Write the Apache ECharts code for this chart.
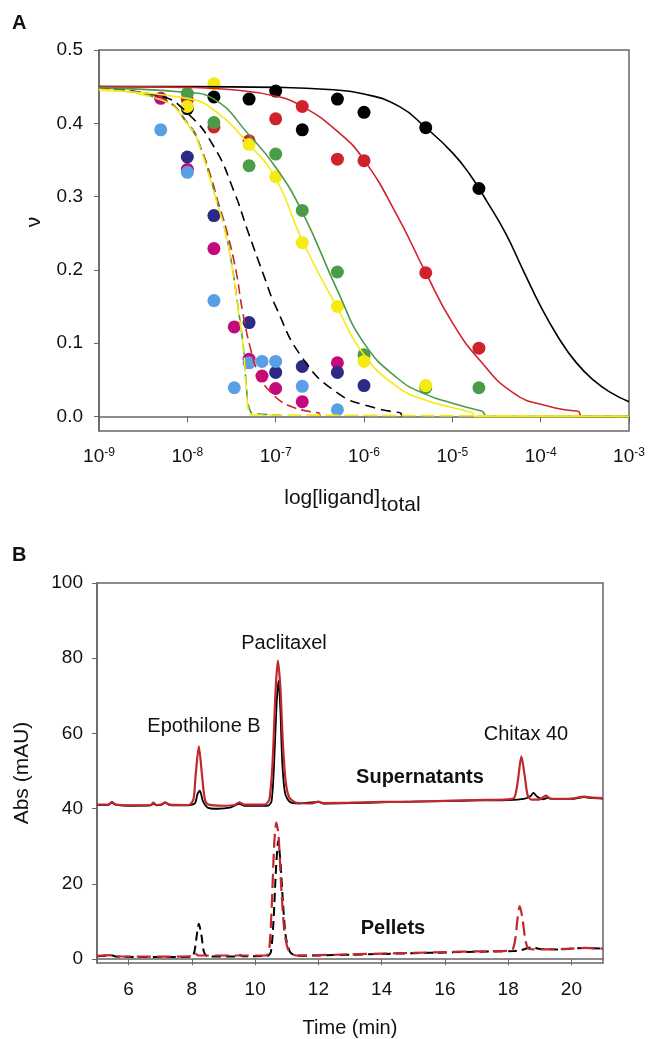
<html>
<head>
<meta charset="utf-8">
<title>binding + hplc</title>
<script src="https://cdn.jsdelivr.net/npm/echarts@6.0.0/dist/echarts.min.js"></script>
<style>
  body { margin: 0; background: #fff; }
  #chart { width: 648px; height: 1039px; }
</style>
</head>
<body>
<div id="chart"></div>
<script>
// ---- panel A : binding points, [conc (M), nu] ----
var ptsBlack   = [[1e-8,0.420],[2e-8,0.436],[5e-8,0.433],[1e-7,0.444],[2e-7,0.391],[5e-7,0.433],[1e-6,0.415],[5e-6,0.394],[2e-5,0.311]];
var ptsRed     = [[1e-8,0.432],[2e-8,0.395],[5e-8,0.376],[1e-7,0.406],[2e-7,0.423],[5e-7,0.351],[1e-6,0.349],[5e-6,0.196],[2e-5,0.093]];
var ptsGreen   = [[1e-8,0.441],[2e-8,0.401],[5e-8,0.342],[1e-7,0.358],[2e-7,0.281],[5e-7,0.197],[1e-6,0.084],[5e-6,0.039],[2e-5,0.039]];
var ptsYellow  = [[1e-8,0.423],[2e-8,0.454],[5e-8,0.371],[1e-7,0.327],[2e-7,0.237],[5e-7,0.150],[1e-6,0.075],[5e-6,0.042]];
var ptsMagenta = [[5e-9,0.434],[1e-8,0.337],[2e-8,0.229],[3.4e-8,0.122],[5e-8,0.078],[7e-8,0.055],[1e-7,0.038],[2e-7,0.020],[5e-7,0.073]];
var ptsNavy    = [[1e-8,0.354],[2e-8,0.274],[5e-8,0.128],[1e-7,0.060],[2e-7,0.068],[5e-7,0.060],[1e-6,0.042]];
var ptsBlue    = [[5e-9,0.391],[1e-8,0.333],[2e-8,0.158],[3.4e-8,0.039],[5e-8,0.073],[7e-8,0.075],[1e-7,0.075],[2e-7,0.041],[5e-7,0.009]];

// fitted curves (they drop to 0 where Excel cut them)
var fitBlack  = [[1e-9,0.450],[1e-8,0.450],[1e-7,0.449],[4e-7,0.446],[1e-6,0.440],[2.5e-6,0.423],[5e-6,0.394],[1e-5,0.360],[1.58e-5,0.330],[2.5e-5,0.292],[4e-5,0.250],[6.3e-5,0.200],[1e-4,0.150],[1.58e-4,0.108],[2.5e-4,0.074],[4e-4,0.049],[6.3e-4,0.032],[1e-3,0.020]];
var fitRed    = [[1e-9,0.450],[1e-8,0.449],[3e-8,0.446],[1e-7,0.437],[2e-7,0.423],[5e-7,0.389],[1e-6,0.350],[2.4e-6,0.273],[5e-6,0.196],[1e-5,0.128],[2e-5,0.078],[4.9e-5,0.032],[1.2e-4,0.014],[2.7e-4,0.007],[2.85e-4,0],[1e-3,0]];
var fitGreen  = [[1e-9,0.448],[1e-8,0.442],[2e-8,0.433],[5e-8,0.384],[1e-7,0.340],[2e-7,0.279],[5e-7,0.172],[1e-6,0.100],[2.4e-6,0.052],[5e-6,0.030],[1e-5,0.018],[2.2e-5,0.007],[2.4e-5,0],[1e-3,0]];
var fitYellow = [[1e-9,0.445],[1e-8,0.434],[2e-8,0.418],[5e-8,0.371],[1e-7,0.325],[2e-7,0.240],[5e-7,0.148],[1e-6,0.084],[2.4e-6,0.040],[5e-6,0.022],[1e-5,0.012],[1.7e-5,0.005],[1.75e-5,0],[1e-3,0]];
var fitBlackDash  = [[1e-9,0.447],[5e-9,0.437],[1e-8,0.414],[2e-8,0.368],[3.4e-8,0.306],[4.8e-8,0.254],[7.2e-8,0.195],[1e-7,0.150],[2e-7,0.080],[5e-7,0.032],[1.2e-6,0.013],[2.6e-6,0.005],[2.7e-6,0]];
var fitRedDash    = [[1e-9,0.447],[5e-9,0.434],[1.1e-8,0.393],[1.4e-8,0.368],[1.85e-8,0.327],[2.2e-8,0.295],[2.75e-8,0.256],[3.55e-8,0.199],[4.2e-8,0.145],[5.25e-8,0.090],[6.5e-8,0.057],[8.5e-8,0.035],[1.45e-7,0.014],[3.1e-7,0.005],[3.2e-7,0]];
var fitGreenDash  = [[1e-9,0.447],[5e-9,0.433],[1.1e-8,0.395],[1.4e-8,0.368],[1.8e-8,0.327],[2.15e-8,0.295],[2.66e-8,0.256],[3.25e-8,0.201],[3.77e-8,0.147],[4.33e-8,0.092],[4.7e-8,0.035],[5e-8,0.012],[5.6e-8,0.004],[1.1e-7,0.002],[1.15e-7,0]];
var fitYellowDash = [[1e-9,0.446],[5e-9,0.432],[1.1e-8,0.393],[1.4e-8,0.366],[1.8e-8,0.325],[2.15e-8,0.293],[2.66e-8,0.254],[3.25e-8,0.199],[3.77e-8,0.145],[4.33e-8,0.090],[4.65e-8,0.035],[4.85e-8,0.012],[5.05e-8,0.002],[5.2e-8,0],[1e-3,0]];

var yTicksA = [0, 0.1, 0.2, 0.3, 0.4, 0.5];

// ---- panel B : chromatograms, [time (min), Abs (mAU)] ----
var supBlack = [[5,41.0],[5.35,41.0],[5.47,41.6],[5.6,41.0],[6.0,40.8],[6.7,40.9],[6.78,41.4],[6.88,40.9],[7.05,41.1],[7.15,41.6],[7.3,41.0],[7.9,40.9],[8.1,41.5],[8.18,44.0],[8.25,44.8],[8.35,42.0],[8.5,40.3],[8.8,40.0],[9.2,40.3],[9.5,41.3],[9.65,40.8],[10.4,40.8],[10.52,42],[10.6,52],[10.68,68],[10.74,74],[10.8,66],[10.86,52],[10.95,44],[11.1,41.8],[11.4,41.4],[12,41.8],[12.15,41.4],[13,41.5],[14,41.7],[15,41.9],[16,42.0],[17,42.2],[18,42.3],[18.5,42.6],[18.7,43.3],[18.8,44.2],[18.92,43.2],[19.1,42.5],[19.25,42.9],[19.4,42.6],[20,42.6],[20.4,43.1],[20.6,42.9],[21,42.7]];
var supRed = [[5,41.1],[5.35,41.1],[5.47,41.8],[5.6,41.1],[6.0,40.9],[6.7,41.0],[6.78,41.6],[6.88,41.0],[7.05,41.2],[7.15,41.7],[7.3,41.1],[7.9,41.0],[8.05,42.5],[8.12,49],[8.22,56.6],[8.32,49],[8.4,43],[8.5,41.2],[9.0,40.8],[9.35,41.0],[9.5,41.7],[9.65,41.1],[10.3,41.1],[10.45,42.5],[10.55,52],[10.65,72],[10.72,79.4],[10.8,72],[10.88,57],[10.97,47],[11.08,43],[11.3,41.6],[11.8,41.4],[12.0,41.9],[12.15,41.5],[13,41.6],[14,41.8],[15,41.9],[16,42.1],[17,42.3],[18.0,42.5],[18.2,43],[18.3,47],[18.42,53.9],[18.52,49],[18.62,43.5],[18.75,42.4],[19.0,42.5],[19.2,43.5],[19.35,42.6],[20,42.7],[20.4,43.2],[20.6,43.0],[21,42.8]];
var pelBlack = [[5,0.8],[5.5,1.0],[5.6,0.7],[7,0.6],[8.0,0.7],[8.08,2],[8.15,6],[8.22,9.4],[8.3,6.5],[8.38,2],[8.5,0.7],[9.4,0.7],[9.5,1.2],[9.6,0.8],[10.4,0.9],[10.5,2],[10.58,10],[10.66,24],[10.73,31.4],[10.8,26],[10.88,15],[10.97,6],[11.1,2],[11.3,0.9],[12,1.0],[13,1.2],[14,1.4],[15,1.6],[16,1.8],[17,2.0],[18.2,2.2],[18.4,2.4],[18.6,2.9],[18.8,3.2],[18.95,2.8],[19.5,2.6],[20.4,3.0],[21,2.8]];
var pelRed = [[5,0.9],[5.5,1.1],[5.6,0.8],[7,0.7],[8.0,0.8],[8.1,1.6],[8.2,1.0],[9.5,1.0],[10.35,1.0],[10.45,3],[10.53,15],[10.6,30],[10.67,36.3],[10.74,33],[10.82,20],[10.92,8],[11.05,2.5],[11.3,1.0],[12,1.1],[13,1.3],[14,1.5],[15,1.7],[16,1.9],[17,2.1],[18.1,2.3],[18.22,5],[18.3,11],[18.37,14.1],[18.45,11],[18.55,5],[18.65,2.8],[19,2.6],[20,2.8],[20.4,3.0],[21,2.8]];

var xTicksB = [6, 8, 10, 12, 14, 16, 18, 20];
var yTicksB = [0, 20, 40, 60, 80, 100];

var FONT = '"Liberation Sans", Arial, sans-serif';
var AXIS = '#666';

var chart = echarts.init(document.getElementById('chart'), null, { renderer: 'canvas' });

function dots(data, color) {
  return { type: 'scatter', xAxisIndex: 0, yAxisIndex: 0, data: data, symbol: 'circle', symbolSize: 13,
    itemStyle: { color: color, opacity: 1 }, z: 2, silent: true };
}
// smooth part up to the cut, then a straight drop and flat tail at 0
function fit(data, color, dash) {
  var k = -1;
  for (var i = 0; i < data.length; i++) { if (data[i][1] === 0) { k = i; break; } }
  var head = k < 0 ? data : data.slice(0, k);
  var tail = k < 0 ? [] : data.slice(k - 1);
  var ls = { color: color, width: 1.6, type: dash || 'solid' };
  var out = [{ type: 'line', xAxisIndex: 0, yAxisIndex: 0, data: head, showSymbol: false, smooth: 0.5,
    lineStyle: ls, z: 3, silent: true }];
  if (tail.length) out.push({ type: 'line', xAxisIndex: 0, yAxisIndex: 0, data: tail, showSymbol: false,
    smooth: false, lineStyle: ls, z: 3, silent: true });
  return out;
}
function trace(data, color, width, dash) {
  return { type: 'line', xAxisIndex: 1, yAxisIndex: 1, data: data, showSymbol: false, smooth: 0.25,
    lineStyle: { color: color, width: width, type: dash || 'solid' }, z: 3, silent: true };
}

var option = {
  animation: false,
  backgroundColor: '#fff',
  textStyle: { fontFamily: FONT },
  grid: [
    { left: 99, top: 50, width: 530, height: 381, show: true, borderColor: AXIS, borderWidth: 1.5, containLabel: false },
    { left: 97, top: 583, width: 506, height: 380, show: true, borderColor: AXIS, borderWidth: 1.5, containLabel: false }
  ],
  xAxis: [
    { type: 'log', gridIndex: 0, logBase: 10, min: 1e-9, max: 1e-3,
      axisLine: { lineStyle: { color: AXIS, width: 1.5 } },
      axisTick: { show: true, inside: false, length: 6, lineStyle: { color: AXIS } },
      minorTick: { show: false }, splitLine: { show: false },
      axisLabel: { margin: 16, showMinLabel: true, showMaxLabel: true,
        formatter: function (v) { return '{b|10}{s|' + Math.round(Math.log10(v)) + '}'; },
        rich: { b: { fontSize: 19, color: '#111', fontFamily: FONT },
                s: { fontSize: 12, color: '#111', fontFamily: FONT, verticalAlign: 'top' } } } },
    { type: 'value', gridIndex: 1, min: 5, max: 21,
      axisLine: { lineStyle: { color: AXIS, width: 1.5 } },
      axisTick: { show: true, inside: false, length: 6, customValues: xTicksB, lineStyle: { color: AXIS } },
      splitLine: { show: false },
      axisLabel: { margin: 17, fontSize: 19, color: '#111', customValues: xTicksB } }
  ],
  yAxis: [
    { type: 'value', gridIndex: 0, min: -0.02, max: 0.5,
      axisLine: { show: true, lineStyle: { color: AXIS, width: 1.5 } },
      axisTick: { show: true, inside: false, length: 5, customValues: yTicksA, lineStyle: { color: AXIS } },
      splitLine: { show: false },
      axisLabel: { margin: 16, fontSize: 19, color: '#111', customValues: yTicksA,
        formatter: function (v) { return v.toFixed(1); } } },
    { type: 'value', gridIndex: 1, min: -1, max: 100,
      axisLine: { show: true, lineStyle: { color: AXIS, width: 1.5 } },
      axisTick: { show: true, inside: false, length: 5, customValues: yTicksB, lineStyle: { color: AXIS } },
      splitLine: { show: false },
      axisLabel: { margin: 14, fontSize: 19, color: '#111', customValues: yTicksB } }
  ],
  series: [].concat(
    dots(ptsBlack, '#000000'),
    dots(ptsRed, '#d0222b'),
    dots(ptsGreen, '#4b9b48'),
    dots(ptsYellow, '#f5ea14'),
    dots(ptsMagenta, '#c4087e'),
    dots(ptsNavy, '#2c2a85'),
    dots(ptsBlue, '#5a9ee6'),
    fit(fitBlack, '#000000'),
    fit(fitRed, '#d0222b'),
    fit(fitGreen, '#4b9b48'),
    fit(fitBlackDash, '#000000', [10, 6]),
    fit(fitRedDash, '#d0222b', [10, 5]),
    fit(fitGreenDash, '#4b9b48', [10, 5]),
    fit(fitYellowDash, '#f5ea14', [14, 5]),
    fit(fitYellow, '#f5ea14'),
    trace(supBlack, '#000000', 1.8),
    trace(supRed, '#c1272d', 2.2),
    trace(pelBlack, '#000000', 2, [9, 5]),
    trace(pelRed, '#c1272d', 2.2, [14, 6])
  ),
  graphic: [
    { type: 'text', left: 12, top: 13, style: { text: 'A', font: 'bold 20px ' + FONT, fill: '#111' } },
    { type: 'text', left: 12, top: 545, style: { text: 'B', font: 'bold 20px ' + FONT, fill: '#111' } },
    { type: 'text', x: 34, y: 222, rotation: Math.PI / 2,
      style: { text: 'ν', font: '21px ' + FONT, fill: '#111', align: 'center', verticalAlign: 'middle' } },
    { type: 'text', x: 380, y: 498,
      style: { text: 'log[ligand]', font: '21px ' + FONT, fill: '#111', align: 'right', verticalAlign: 'middle' } },
    { type: 'text', x: 381, y: 505,
      style: { text: 'total', font: '21px ' + FONT, fill: '#111', align: 'left', verticalAlign: 'middle' } },
    { type: 'text', x: 22, y: 773, rotation: Math.PI / 2,
      style: { text: 'Abs (mAU)', font: '21px ' + FONT, fill: '#111', align: 'center', verticalAlign: 'middle' } },
    { type: 'text', x: 350, y: 1028,
      style: { text: 'Time (min)', font: '20px ' + FONT, fill: '#111', align: 'center', verticalAlign: 'middle' } },
    { type: 'text', x: 204, y: 726,
      style: { text: 'Epothilone B', font: '20px ' + FONT, fill: '#111', align: 'center', verticalAlign: 'middle' } },
    { type: 'text', x: 284, y: 643,
      style: { text: 'Paclitaxel', font: '20px ' + FONT, fill: '#111', align: 'center', verticalAlign: 'middle' } },
    { type: 'text', x: 526, y: 734,
      style: { text: 'Chitax 40', font: '20px ' + FONT, fill: '#111', align: 'center', verticalAlign: 'middle' } },
    { type: 'text', x: 420, y: 777,
      style: { text: 'Supernatants', font: 'bold 20px ' + FONT, fill: '#111', align: 'center', verticalAlign: 'middle' } },
    { type: 'text', x: 393, y: 928,
      style: { text: 'Pellets', font: 'bold 20px ' + FONT, fill: '#111', align: 'center', verticalAlign: 'middle' } }
  ]
};

chart.setOption(option);
</script>
</body>
</html>
